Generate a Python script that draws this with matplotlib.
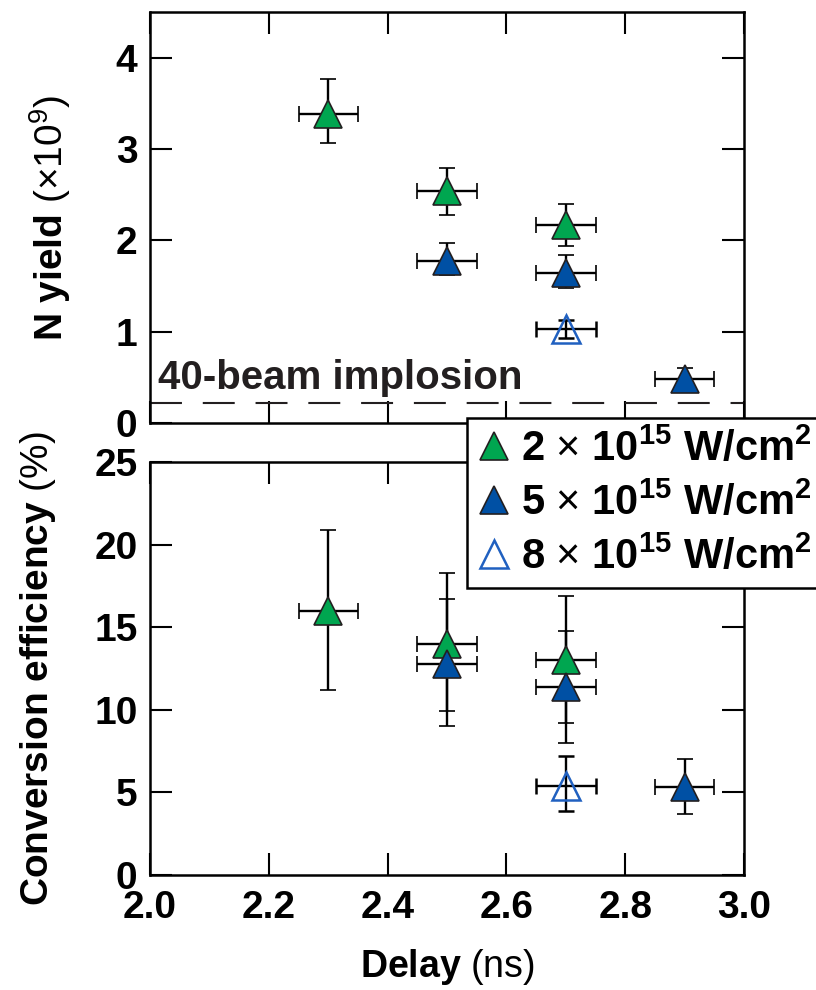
import matplotlib
matplotlib.use("Agg")
import matplotlib.pyplot as plt
from matplotlib.lines import Line2D

plt.rcParams['font.family'] = ['Liberation Sans', 'DejaVu Sans']
plt.rcParams['font.weight'] = 'bold'
plt.rcParams['axes.labelweight'] = 'bold'
plt.rcParams['mathtext.fontset'] = 'custom'
plt.rcParams['mathtext.rm'] = 'Liberation Sans:weight=normal'
plt.rcParams['mathtext.default'] = 'regular'
plt.rcParams['lines.scale_dashes'] = False

# delay (ns) and x error (ns)
x_err = 0.05
delay_2e15 = [2.3, 2.5, 2.7]
delay_5e15 = [2.5, 2.7, 2.9]
delay_8e15 = [2.7]

# N yield (x1e9): value, lower err, upper err
yield_2e15 = [3.38, 2.54, 2.17]
yield_2e15_lo = [0.31, 0.26, 0.23]
yield_2e15_hi = [0.39, 0.25, 0.23]
yield_5e15 = [1.77, 1.64, 0.48]
yield_5e15_lo = [0.15, 0.16, 0.12]
yield_5e15_hi = [0.20, 0.20, 0.12]
yield_8e15 = [1.03]
yield_8e15_lo = [0.10]
yield_8e15_hi = [0.10]

# conversion efficiency (%)
ce_2e15 = [16.0, 14.0, 13.0]
ce_2e15_lo = [4.8, 4.1, 3.8]
ce_2e15_hi = [4.9, 4.3, 3.9]
ce_5e15 = [12.8, 11.4, 5.35]
ce_5e15_lo = [3.8, 3.4, 1.65]
ce_5e15_hi = [3.9, 3.4, 1.65]
ce_8e15 = [5.4]
ce_8e15_lo = [1.5]
ce_8e15_hi = [1.8]

implosion_level = 0.22

green = '#00a650'
blue = '#0050a4'
open_blue = '#2060c0'
edge = '#231f20'

labels = ['2 $\\mathrm{\\times}$ 10$^{15}$ W/cm$^{2}$',
          '5 $\\mathrm{\\times}$ 10$^{15}$ W/cm$^{2}$',
          '8 $\\mathrm{\\times}$ 10$^{15}$ W/cm$^{2}$']

fig = plt.figure(figsize=(8.16, 9.9), dpi=100)
ax1 = fig.add_axes([150 / 816, 1 - 423 / 990, 594 / 816, 411 / 990])
ax2 = fig.add_axes([150 / 816, 1 - 875 / 990, 594 / 816, 413 / 990])

eb = dict(fmt='^', ms=20, ecolor='black', elinewidth=1.7, capsize=6, capthick=1.7)

for ax, vals in [(ax1, [(yield_2e15, yield_2e15_lo, yield_2e15_hi),
                        (yield_5e15, yield_5e15_lo, yield_5e15_hi),
                        (yield_8e15, yield_8e15_lo, yield_8e15_hi)]),
                 (ax2, [(ce_2e15, ce_2e15_lo, ce_2e15_hi),
                        (ce_5e15, ce_5e15_lo, ce_5e15_hi),
                        (ce_8e15, ce_8e15_lo, ce_8e15_hi)])]:
    g, b, o = vals
    ax.errorbar(delay_2e15, g[0], yerr=[g[1], g[2]], xerr=x_err,
                mfc=green, mec=edge, mew=1.2, **eb)
    ax.errorbar(delay_5e15, b[0], yerr=[b[1], b[2]], xerr=x_err,
                mfc=blue, mec=edge, mew=1.2, **eb)
    ax.errorbar(delay_8e15, o[0], yerr=[o[1], o[2]], xerr=x_err,
                mfc='none', mec=open_blue, mew=1.8, **eb)

ax1.axhline(implosion_level, color=edge, lw=1.5, dashes=(23, 15))
ax1.text(2.013, 0.37, '40-beam implosion', fontsize=29, color=edge,
         ha='left', va='baseline')

ax1.set_xlim(2.0, 3.0)
ax1.set_ylim(0, 4.5)
ax1.set_yticks([0, 1, 2, 3, 4])
ax2.set_xlim(2.0, 3.0)
ax2.set_ylim(0, 25)
ax2.set_yticks([0, 5, 10, 15, 20, 25])

for ax in (ax1, ax2):
    ax.set_xticks([2.0, 2.2, 2.4, 2.6, 2.8, 3.0])
    ax.tick_params(direction='in', top=True, right=True, length=16,
                   width=1.5, labelsize=28, pad=9)
    for s in ax.spines.values():
        s.set_linewidth(1.8)
ax1.tick_params(labelbottom=False)
ax2.tick_params(axis='x', pad=11)
ax2.set_xticklabels(['2.0', '2.2', '2.4', '2.6', '2.8', '3.0'])

ax1.set_ylabel('N yield $\\mathrm{(\\times10^{9})}$', fontsize=28)
ax1.yaxis.set_label_coords(-0.13, 0.5)
ax2.set_ylabel('Conversion efficiency $\\mathrm{(\\%)}$', fontsize=28)
ax2.yaxis.set_label_coords(-0.155, 0.5)
ax2.set_xlabel('Delay $\\mathrm{(ns)}$', fontsize=27)
ax2.xaxis.set_label_coords(0.5, -0.175)

handles = [
    Line2D([], [], ls='none', marker='^', ms=20, mfc=green, mec=edge, mew=1.2),
    Line2D([], [], ls='none', marker='^', ms=20, mfc=blue, mec=edge, mew=1.2),
    Line2D([], [], ls='none', marker='^', ms=20, mfc='none', mec=open_blue, mew=1.8),
]
leg = fig.legend(handles, labels, loc='upper left',
                 bbox_to_anchor=(467 / 816, 1 - 418 / 990), borderaxespad=0,
                 frameon=True, fancybox=False, edgecolor='black', framealpha=1,
                 fontsize=30, borderpad=0.25, handlelength=0.8,
                 handletextpad=0.25, labelspacing=0.3)
leg.get_frame().set_linewidth(1.8)

fig.savefig('out.png', dpi=100)
